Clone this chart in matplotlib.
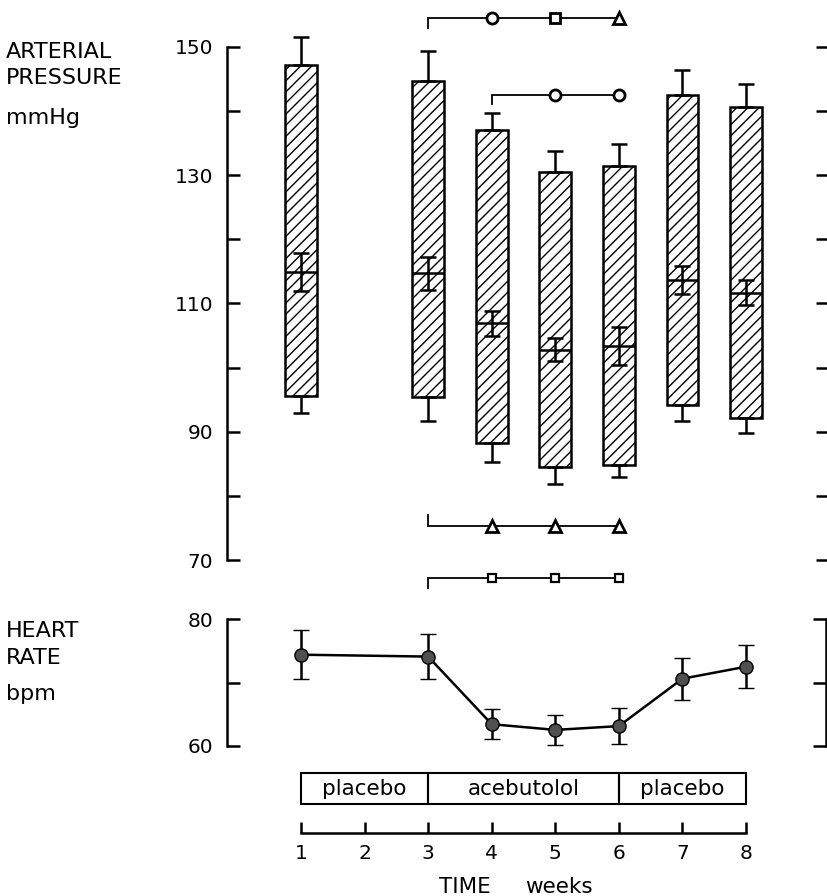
import matplotlib
matplotlib.use("Agg")
import matplotlib.pyplot as plt
from matplotlib.patches import Rectangle
import numpy as np

# ---- data -----------------------------------------------------------------
weeks = [1, 3, 4, 5, 6, 7, 8]

systolic = [147.2, 144.7, 137.0, 130.5, 131.5, 142.5, 140.6]
systolic_sem = [4.4, 4.7, 2.7, 3.3, 3.3, 3.9, 3.7]
diastolic = [95.5, 95.4, 88.2, 84.5, 84.8, 94.1, 92.2]
diastolic_sem = [2.6, 3.8, 2.9, 2.6, 1.9, 2.4, 2.4]
mean_pressure = [114.9, 114.7, 106.9, 102.8, 103.4, 113.7, 111.7]
mean_pressure_sem = [3.0, 2.6, 2.0, 1.8, 3.0, 2.2, 2.0]

heart_rate = [74.4, 74.1, 63.4, 62.5, 63.1, 70.6, 72.5]
heart_rate_sem = [3.9, 3.6, 2.4, 2.4, 2.8, 3.3, 3.4]

pressure_ticks = [70, 90, 110, 130, 150]
pressure_minor = [80, 100, 120, 140]
hr_ticks = [60, 80]
hr_minor = [70]
week_ticks = [1, 2, 3, 4, 5, 6, 7, 8]

phases = [("placebo", 1, 3), ("acebutolol", 3, 6), ("placebo", 6, 8)]

# significance brackets: (line level, bracket tip, start week, [(week, marker)])
pressure_sig = [
    (154.5, 152.9, 3, [(4, "o"), (5, "s"), (6, "^")]),
    (142.5, 141.1, 4, [(5, "o"), (6, "o")]),
    (75.3, 77.0, 3, [(4, "^"), (5, "^"), (6, "^")]),
]
hr_sig = [(86.5, 85.0, 3, [(4, "s"), (5, "s"), (6, "s")])]

# ---- layout helpers (pixel based) ----------------------------------------
W, H = 828, 896
X0, DX = 301.0, 63.57          # pixel of week 1, pixels per week
LW = 1.8
FS = 14.5

plt.rcParams["font.family"] = ["DejaVu Sans"]
plt.rcParams["hatch.linewidth"] = 1.0

fig = plt.figure(figsize=(W / 100, H / 100), dpi=100)
fig.patch.set_facecolor("white")


def add_axes(left, right, top, bottom):
    ax = fig.add_axes([left / W, 1 - bottom / H, (right - left) / W, (bottom - top) / H])
    ax.set_xlim(1 + (left - X0) / DX, 1 + (right - X0) / DX)
    ax.patch.set_alpha(0)
    return ax


def style_value_axis(ax, show_right_spine):
    for s in ("top", "bottom"):
        ax.spines[s].set_visible(False)
    ax.spines["left"].set_linewidth(LW)
    ax.spines["right"].set_linewidth(LW)
    ax.spines["right"].set_visible(show_right_spine)
    ax.set_xticks([])
    ax.tick_params(axis="y", which="both", direction="in", length=9.5, width=LW,
                   left=True, right=True, labelright=False, labelsize=FS, pad=10)


def draw_sig(ax, rows, sizes, mew):
    for level, tip, start, items in rows:
        ax.plot([start, start, items[-1][0]], [tip, level, level], color="black",
                lw=1.3, clip_on=False, zorder=4, solid_joinstyle="miter")
        for w, m in items:
            ax.plot(w, level, marker=m, ms=sizes[m], mfc="white", mec="black",
                    mew=mew, clip_on=False, zorder=5, linestyle="none")


def unclip(container):
    for art in container.get_children():
        art.set_clip_on(False)


# ---- arterial pressure ----------------------------------------------------
ax = add_axes(227, 828.5, 47, 560)
ax.set_ylim(70, 150)
style_value_axis(ax, show_right_spine=False)
ax.set_yticks(pressure_ticks)
ax.set_yticks(pressure_minor, minor=True)

wk = np.array(weeks, dtype=float)
sys_a = np.array(systolic)
dia_a = np.array(diastolic)
zeros = np.zeros_like(wk)

ax.bar(wk, sys_a - dia_a, bottom=dia_a, width=0.5, color="white",
       edgecolor="black", linewidth=LW, hatch="///", zorder=2)
err_kw = dict(fmt="none", ecolor="black", elinewidth=LW, capsize=6, capthick=LW, zorder=3)
unclip(ax.errorbar(wk, sys_a, yerr=[zeros, systolic_sem], **err_kw))
unclip(ax.errorbar(wk, dia_a, yerr=[diastolic_sem, zeros], **err_kw))
ax.hlines(mean_pressure, wk - 0.25, wk + 0.25, color="black", lw=LW, zorder=3)
unclip(ax.errorbar(wk, mean_pressure, yerr=mean_pressure_sem, **err_kw))

draw_sig(ax, pressure_sig, {"o": 8, "s": 7, "^": 8.5}, 2.0)

# ---- heart rate -----------------------------------------------------------
ah = add_axes(227, 826, 619.3, 745.7)
ah.set_ylim(60, 80)
style_value_axis(ah, show_right_spine=True)
ah.set_yticks(hr_ticks)
ah.set_yticks(hr_minor, minor=True)
hr = ah.errorbar(wk, heart_rate, yerr=heart_rate_sem, fmt="-o", color="black", lw=LW,
                 ms=9.5, mfc="#505050", mec="black", mew=1.0, capsize=6, capthick=LW,
                 elinewidth=LW, zorder=3)
unclip(hr)
draw_sig(ah, hr_sig, {"s": 5.5}, 1.6)

# ---- treatment phases and time axis ---------------------------------------
ab = add_axes(227, 826, 765, 832.7)
ab.set_ylim(832.7, 765)          # pixel rows, downward
for s in ("top", "left", "right"):
    ab.spines[s].set_visible(False)
ab.spines["bottom"].set_linewidth(LW)
ab.spines["bottom"].set_bounds(week_ticks[0], week_ticks[-1])
ab.set_yticks([])
ab.set_xticks(week_ticks)
ab.set_xticklabels([str(w) for w in week_ticks])
ab.tick_params(axis="x", direction="in", length=8, width=LW, labelsize=FS, pad=8)

for name, start, end in phases:
    ab.add_patch(Rectangle((start, 773), end - start, 31, fill=False,
                           edgecolor="black", lw=1.5))
    ab.text((start + end) / 2, 789, name, ha="center", va="center", fontsize=15.5)

fig.text(464.5 / W, 1 - 893 / H, "TIME", ha="center", va="baseline", fontsize=15.5)
fig.text(559 / W, 1 - 893 / H, "weeks", ha="center", va="baseline", fontsize=15.5)

# ---- side titles ----------------------------------------------------------
side_fs = 16
fig.text(6 / W, 1 - 58.5 / H, "ARTERIAL", ha="left", va="baseline", fontsize=side_fs)
fig.text(6 / W, 1 - 84 / H, "PRESSURE", ha="left", va="baseline", fontsize=side_fs)
fig.text(6 / W, 1 - 124 / H, "mmHg", ha="left", va="baseline", fontsize=side_fs)
fig.text(6 / W, 1 - 636.5 / H, "HEART", ha="left", va="baseline", fontsize=side_fs)
fig.text(6 / W, 1 - 664 / H, "RATE", ha="left", va="baseline", fontsize=side_fs)
fig.text(6 / W, 1 - 700 / H, "bpm", ha="left", va="baseline", fontsize=side_fs)

fig.savefig("out.png", dpi=100)
